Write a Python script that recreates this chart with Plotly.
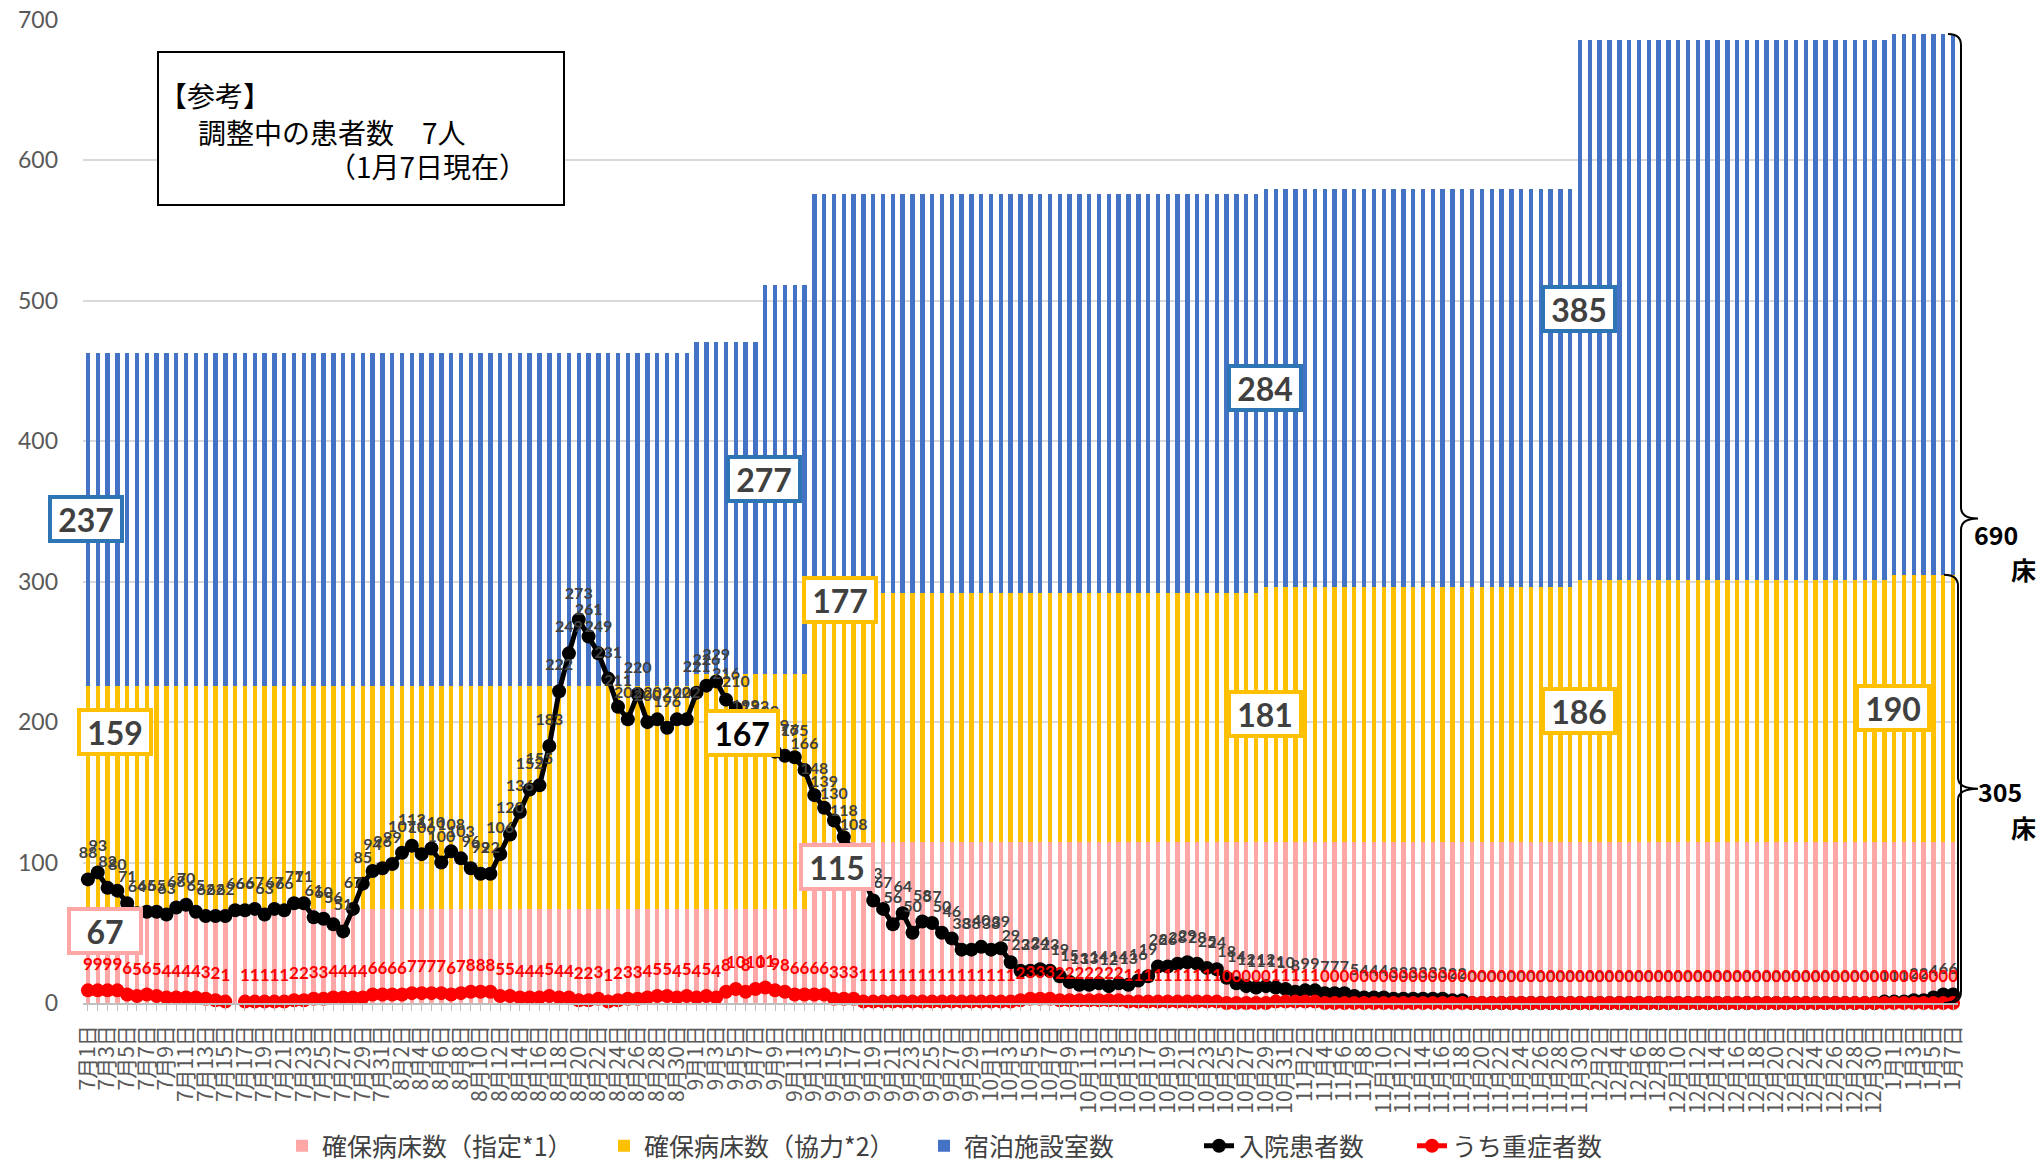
import datetime as dt
import plotly.graph_objects as go

# ---------------- categories ----------------
start = dt.date(2020, 7, 1)
dates = [f"{d.month}月{d.day}日" for d in (start + dt.timedelta(days=i) for i in range(191))]

# ---------------- bar series (beds / rooms) ----------------
shitei = [67] * 74 + [115] * 117                                              # 確保病床数(指定)
kyoryoku = [159] * 62 + [167] * 12 + [177] * 46 + [181] * 32 + [186] * 32 + [190] * 7   # 確保病床数(協力)
shukuhaku = [237] * 69 + [277] * 5 + [284] * 78 + [385] * 39                  # 宿泊施設室数

# ---------------- line series ----------------
nyuin = [
    88, 93, 82, 80, 71, 64, 65, 65, 63, 68,
    70, 65, 62, 62, 62, 66, 66, 67, 63, 67,
    66, 71, 71, 61, 60, 56, 51, 67, 85, 94,
    96, 99, 107, 112, 106, 110, 100, 108, 103, 96,
    92, 92, 106, 120, 136, 152, 155, 183, 222, 249,
    273, 261, 249, 231, 211, 202, 220, 200, 202, 196,
    202, 202, 221, 226, 229, 216, 210, 193, 192, 189,
    179, 176, 175, 166, 148, 139, 130, 118, 108, 89,
    73, 67, 56, 64, 50, 58, 57, 50, 46, 38,
    38, 40, 38, 39, 29, 23, 23, 24, 23, 19,
    15, 13, 13, 14, 12, 14, 13, 16, 19, 26,
    26, 28, 29, 28, 25, 24, 18, 14, 12, 11,
    12, 11, 10, 8, 9, 9, 7, 7, 7, 5,
    4, 4, 4, 3, 3, 3, 3, 3, 3, 2,
    2, 0, 0, 0, 0, 0, 0, 0, 0, 0,
    0, 0, 0, 0, 0, 0, 0, 0, 0, 0,
    0, 0, 0, 0, 0, 0, 0, 0, 0, 0,
    0, 0, 0, 0, 0, 0, 0, 0, 0, 0,
    0, 0, 0, 1, 1, 1, 2, 2, 4, 6,
    6,
]
jusho = [
    9, 9, 9, 9, 6, 5, 6, 5, 4, 4,
    4, 4, 3, 2, 1, None, 1, 1, 1, 1,
    1, 2, 2, 3, 3, 4, 4, 4, 4, 6,
    6, 6, 6, 7, 7, 7, 7, 6, 7, 8,
    8, 8, 5, 5, 4, 4, 4, 5, 4, 4,
    2, 2, 3, 1, 2, 3, 3, 4, 5, 5,
    4, 5, 4, 5, 4, 8, 10, 8, 10, 11,
    9, 8, 6, 6, 6, 6, 3, 3, 3, 1,
    1, 1, 1, 1, 1, 1, 1, 1, 1, 1,
    1, 1, 1, 1, 1, 2, 3, 3, 3, 2,
    2, 2, 2, 2, 2, 2, 1, 1, 1, 1,
    1, 1, 1, 1, 1, 1, 0, 0, 0, 0,
    0, 1, 1, 1, 1, 1, 0, 0, 0, 0,
    0, 0, 0, 0, 0, 0, 0, 0, 0, 0,
    0, 0, 0, 0, 0, 0, 0, 0, 0, 0,
    0, 0, 0, 0, 0, 0, 0, 0, 0, 0,
    0, 0, 0, 0, 0, 0, 0, 0, 0, 0,
    0, 0, 0, 0, 0, 0, 0, 0, 0, 0,
    0, 0, 0, 0, 0, 0, 0, 0, 0, 0,
    0,
]

tick_text = [d if i % 2 == 0 else "" for i, d in enumerate(dates)]

PINK, YELLOW, BLUE = "#FFA7A7", "#FFC000", "#4472C4"
BLUE_BORDER = "#2E75B6"
JP = "Noto Sans CJK JP"
NUM = "Lato"

# geometry helpers (figure pixels -> paper / data)
L, R, T, B = 83, 85, 20, 159
W, H = 2043, 1162
PW, PH = W - L - R, H - T - B
UNIT = PH / 700.0            # px per data unit


def px(x):
    return (x - L) / PW


def py(y):
    return (H - B - y) / PH


LABEL_OFF = 25 / UNIT

fig = go.Figure()
fig.add_bar(x=dates, y=shitei, name="確保病床数（指定*1）", marker=dict(color=PINK, line_width=0),
            hoverinfo="skip", legend="legend")
fig.add_bar(x=dates, y=kyoryoku, name="確保病床数（協力*2）", marker=dict(color=YELLOW, line_width=0),
            hoverinfo="skip", legend="legend2")
fig.add_bar(x=dates, y=shukuhaku, name="宿泊施設室数", marker=dict(color=BLUE, line_width=0),
            hoverinfo="skip", legend="legend3")

fig.add_scatter(x=dates, y=nyuin, mode="lines+markers", name="入院患者数",
                line=dict(color="black", width=5), marker=dict(color="black", size=14),
                cliponaxis=False, legend="legend4")
fig.add_scatter(x=dates, y=[v + LABEL_OFF for v in nyuin], mode="text",
                text=[str(v) for v in nyuin], showlegend=False, hoverinfo="skip",
                textfont=dict(family=NUM, size=16, color="#404040", weight="bold"),
                cliponaxis=False)
fig.add_scatter(x=dates, y=jusho, mode="lines+markers", name="うち重症者数",
                line=dict(color="#FF0000", width=5), marker=dict(color="#FF0000", size=14),
                connectgaps=False, cliponaxis=False, legend="legend5")
fig.add_scatter(x=dates, y=[None if v is None else v + LABEL_OFF for v in jusho], mode="text",
                text=["" if v is None else str(v) for v in jusho], showlegend=False, hoverinfo="skip",
                textfont=dict(family=NUM, size=17, color="#FF0000", weight="bold"),
                cliponaxis=False)

# ---------------- boxed value labels ----------------
boxes = [
    (-0.16, 345, shukuhaku[0], BLUE_BORDER, "#404040"),
    (2.8, 193, kyoryoku[0], YELLOW, "#404040"),
    (1.7, 51, shitei[0], PINK, "#404040"),
    (68.9, 373, shukuhaku[69], BLUE_BORDER, "#404040"),
    (66.6, 192, kyoryoku[62], YELLOW, "#000000"),
    (76.6, 287, kyoryoku[74], YELLOW, "#404040"),
    (76.3, 97, shitei[74], PINK, "#404040"),
    (119.9, 438, shukuhaku[74], BLUE_BORDER, "#404040"),
    (119.9, 206, kyoryoku[120], YELLOW, "#404040"),
    (151.9, 494, shukuhaku[152], BLUE_BORDER, "#404040"),
    (151.9, 208, kyoryoku[152], YELLOW, "#404040"),
    (183.9, 210, kyoryoku[184], YELLOW, "#404040"),
]
annotations = []
for x, y, val, bc, tc in boxes:
    annotations.append(dict(
        x=x, y=y, xref="x", yref="y", text=str(val), showarrow=False,
        font=dict(family=NUM, size=32, color=tc, weight="bold"),
        bgcolor="white", bordercolor=bc, borderwidth=4, borderpad=2,
        width=64, height=36, xanchor="center", yanchor="middle"))

# reference note box
note_lines = [("【参考】", 157, 95), ("調整中の患者数　7人", 196, 132), ("（1月7日現在）", 326, 166)]
for txt, x, y in note_lines:
    annotations.append(dict(x=px(x), y=py(y), xref="paper", yref="paper", text=txt,
                            showarrow=False, xanchor="left", yanchor="middle",
                            font=dict(family=JP, size=28, color="black")))

# brace labels
total_all = shitei[-1] + kyoryoku[-1] + shukuhaku[-1]
total_beds = shitei[-1] + kyoryoku[-1]
for txt, x, yv in [(str(total_all), 1996, 334), ("床", 2023, 309),
                   (str(total_beds), 2000, 151), ("床", 2023, 125)]:
    annotations.append(dict(x=px(x), y=yv, xref="paper", yref="y", text=txt, showarrow=False,
                            xanchor="center", yanchor="middle",
                            font=dict(family=JP, size=25, color="black", weight="bold")))

shapes = [dict(type="rect", xref="paper", yref="paper", x0=px(158), x1=px(564),
               y0=py(205), y1=py(52), line=dict(color="black", width=2), fillcolor="white", layer="above")]


def brace(V, xl, xt, xc):
    d = 8
    m = V / 2.0
    pl, pt, pc = px(xl), px(xt), px(xc)
    return (f"M {pc},{V} Q {pl},{V} {pl},{V - d} L {pl},{m + d} Q {pl},{m} {pt},{m} "
            f"Q {pl},{m} {pl},{m - d} L {pl},{d} Q {pl},0 {pc},0")


shapes.append(dict(type="path", xref="paper", yref="y", path=brace(total_all, 1961, 1978, 1948),
                   line=dict(color="black", width=2)))
shapes.append(dict(type="path", xref="paper", yref="y", path=brace(total_beds, 1958, 1978, 1944),
                   line=dict(color="black", width=2)))

# one legend per entry, placed where the reference shows each entry
legend_text_x = [332, 654, 974, 1249, 1462]
legends = {}
for i, tx in enumerate(legend_text_x):
    key = "legend" if i == 0 else f"legend{i + 1}"
    legends[key] = dict(orientation="h", x=px(tx - 50), xanchor="left", y=py(1146), yanchor="middle",
                        font=dict(family=JP, size=25, color="#404040"), itemwidth=30,
                        bgcolor="rgba(0,0,0,0)")

fig.update_layout(
    width=W, height=H,
    margin=dict(l=L, r=R, t=T, b=B, autoexpand=False),
    paper_bgcolor="white", plot_bgcolor="white",
    barmode="stack", bargap=0.55,
    showlegend=True,
    annotations=annotations, shapes=shapes,
    xaxis=dict(type="category", tickmode="array", tickvals=dates, ticktext=tick_text,
               tickangle=-90, tickfont=dict(family=JP, size=21, color="#595959"),
               showline=True, linecolor="#BFBFBF", linewidth=1.5, ticks="outside", ticklen=6,
               tickcolor="#BFBFBF", showgrid=False, range=[-0.5, 190.5], ticklabelstandoff=6),
    yaxis=dict(range=[0, 700], dtick=100, showgrid=True, gridcolor="#D9D9D9", gridwidth=1.5,
               zeroline=False, tickfont=dict(family=NUM, size=23, color="#595959"),
               ticklabelstandoff=24),
    **legends,
)

fig.write_html("out.html", config={"displayModeBar": False},
               post_script="document.body.style.margin='0';")
